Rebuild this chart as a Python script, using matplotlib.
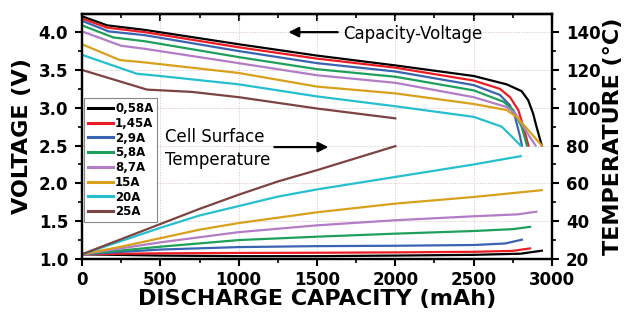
import matplotlib
matplotlib.use('Agg')
import matplotlib.pyplot as plt
from matplotlib.ticker import MultipleLocator, FormatStrFormatter

labels = ['0,58A', '1,45A', '2,9A', '5,8A', '8,7A', '15A', '20A', '25A']
colors = ['#000000', '#ec1c24', '#3a64b2', '#1fa05a', '#b27cc6', '#d9a11b', '#25bfd0', '#7d4242']

# discharge capacity (mAh) vs voltage (V)
cap_v_058 = [0, 160, 400, 1000, 1500, 2000, 2500, 2710, 2806, 2848, 2880, 2901, 2935]
volt_058 = [4.21, 4.09, 4.03, 3.84, 3.69, 3.56, 3.42, 3.31, 3.22, 3.10, 2.92, 2.75, 2.50]
cap_v_145 = [0, 160, 400, 1000, 1500, 2000, 2500, 2668, 2732, 2785, 2817, 2850]
volt_145 = [4.18, 4.06, 4.00, 3.80, 3.65, 3.53, 3.36, 3.25, 3.14, 2.97, 2.75, 2.50]
cap_v_29 = [0, 170, 400, 1000, 1500, 2000, 2500, 2668, 2732, 2764, 2796, 2808]
volt_29 = [4.15, 4.01, 3.96, 3.75, 3.59, 3.48, 3.30, 3.17, 3.03, 2.88, 2.62, 2.50]
cap_v_58 = [0, 200, 400, 1000, 1500, 2000, 2500, 2690, 2753, 2806, 2840]
volt_58 = [4.09, 3.93, 3.88, 3.67, 3.51, 3.41, 3.23, 3.08, 2.97, 2.75, 2.50]
cap_v_87 = [0, 250, 400, 1000, 1500, 2000, 2500, 2710, 2764, 2838, 2895]
volt_87 = [4.01, 3.82, 3.78, 3.59, 3.43, 3.33, 3.14, 3.01, 2.93, 2.68, 2.50]
cap_v_15 = [0, 243, 400, 1000, 1500, 2000, 2500, 2710, 2774, 2859, 2935]
volt_15 = [3.84, 3.63, 3.60, 3.46, 3.28, 3.19, 3.05, 2.97, 2.88, 2.68, 2.50]
cap_v_20 = [0, 350, 500, 1000, 1500, 2000, 2500, 2679, 2743, 2800]
volt_20 = [3.70, 3.45, 3.42, 3.31, 3.15, 3.02, 2.88, 2.75, 2.62, 2.50]
cap_v_25 = [0, 415, 700, 1000, 1500, 2000]
volt_25 = [3.50, 3.24, 3.21, 3.14, 2.99, 2.86]

# discharge capacity (mAh) vs cell surface temperature (C)
cap_t_058 = [0, 500, 1000, 1500, 2000, 2500, 2800, 2935]
temp_058 = [22.5, 21.8, 21.5, 21.5, 21.8, 22.2, 22.8, 24.4]
cap_t_145 = [0, 500, 1000, 1500, 2000, 2500, 2750, 2860]
temp_145 = [22.5, 23.0, 23.2, 23.3, 23.5, 23.8, 24.3, 25.6]
cap_t_29 = [0, 500, 1000, 1500, 2000, 2500, 2700, 2808]
temp_29 = [22.5, 25.0, 26.3, 26.8, 27.0, 27.4, 28.2, 30.2]
cap_t_58 = [0, 500, 1000, 1500, 2000, 2500, 2750, 2860]
temp_58 = [22.5, 26.5, 30.0, 31.8, 33.4, 34.8, 35.8, 37.0]
cap_t_87 = [0, 500, 1000, 1500, 2000, 2500, 2780, 2900]
temp_87 = [22.5, 28.8, 34.2, 37.8, 40.5, 42.6, 43.6, 45.0]
cap_t_15 = [0, 250, 500, 750, 1000, 1500, 2000, 2500, 2935]
temp_15 = [22.5, 26.5, 31.0, 35.5, 39.0, 44.7, 49.3, 52.8, 56.4]
cap_t_20 = [0, 250, 500, 750, 1000, 1250, 1500, 2000, 2500, 2800]
temp_20 = [22.5, 29.5, 36.5, 43.0, 48.0, 53.0, 56.8, 63.4, 70.0, 74.4]
cap_t_25 = [0, 250, 500, 750, 1000, 1250, 1500, 2000]
temp_25 = [22.5, 30.5, 38.5, 46.5, 54.0, 61.0, 67.0, 79.7]

volt_curves = [(cap_v_058, volt_058), (cap_v_145, volt_145), (cap_v_29, volt_29), (cap_v_58, volt_58),
               (cap_v_87, volt_87), (cap_v_15, volt_15), (cap_v_20, volt_20), (cap_v_25, volt_25)]
temp_curves = [(cap_t_058, temp_058), (cap_t_145, temp_145), (cap_t_29, temp_29), (cap_t_58, temp_58),
               (cap_t_87, temp_87), (cap_t_15, temp_15), (cap_t_20, temp_20), (cap_t_25, temp_25)]

fig = plt.figure(figsize=(6.25, 3.16), dpi=100)
ax = fig.add_axes([0.1312, 0.1804, 0.752, 0.7753])
ax2 = ax.twinx()

for (x, y), c, lab in zip(volt_curves, colors, labels):
    ax.plot(x, y, color=c, lw=1.6, label=lab)
for (x, y), c in zip(temp_curves, colors):
    ax2.plot(x, y, color=c, lw=1.6)

ax.set_xlim(0, 3000)
ax.set_ylim(1.0, 4.24)
ax2.set_ylim(20, 149.6)

ax.xaxis.set_major_locator(MultipleLocator(500))
ax.xaxis.set_minor_locator(MultipleLocator(250))
ax.yaxis.set_major_locator(MultipleLocator(0.5))
ax.yaxis.set_minor_locator(MultipleLocator(0.25))
ax.yaxis.set_major_formatter(FormatStrFormatter('%.1f'))
ax2.yaxis.set_major_locator(MultipleLocator(20))
ax2.yaxis.set_minor_locator(MultipleLocator(10))

ax.grid(True, which='major', ls=(0, (2, 2)), lw=0.5, color='#d8bcbc')

ax.tick_params(which='major', direction='out', length=5, width=1.5, labelsize=12)
ax.tick_params(axis='y', which='major', pad=5)
ax.tick_params(axis='x', which='major', pad=4)
ax.tick_params(which='minor', direction='out', length=3, width=1.2)
ax2.tick_params(which='major', direction='out', length=5, width=1.5, labelsize=12, pad=5)
ax2.tick_params(which='minor', direction='out', length=3, width=1.2)

top = ax.secondary_xaxis('top')
top.xaxis.set_major_locator(MultipleLocator(500))
top.xaxis.set_minor_locator(MultipleLocator(250))
top.tick_params(which='major', direction='in', length=5, width=1.5, labeltop=False)
top.tick_params(which='minor', direction='in', length=3, width=1.2)
top.spines['top'].set_linewidth(1.6)

for sp in ax.spines.values():
    sp.set_linewidth(1.6)
for sp in ax2.spines.values():
    sp.set_linewidth(1.6)

for t in ax.get_xticklabels() + ax.get_yticklabels() + ax2.get_yticklabels():
    t.set_fontweight('bold')

ax.set_xlabel('DISCHARGE CAPACITY (mAh)', fontsize=16, fontweight='bold', labelpad=0)
ax.set_ylabel('VOLTAGE (V)', fontsize=16, fontweight='bold', labelpad=5)
ax2.set_ylabel('TEMPERATURE (°C)', fontsize=16, fontweight='bold', labelpad=2)

leg = ax.legend(loc='upper left', bbox_to_anchor=(0.0, 0.665), fontsize=8.5, frameon=True,
                fancybox=False, edgecolor='#888888', framealpha=1, handlelength=2.1,
                handletextpad=0.2, labelspacing=0.15, borderpad=0.3, borderaxespad=0.2)
leg.get_frame().set_linewidth(0.8)
for t in leg.get_texts():
    t.set_fontweight('bold')
for h in leg.get_lines():
    h.set_linewidth(2.2)

ax.annotate('', xy=(1300, 4.0), xytext=(1650, 4.0),
            arrowprops=dict(arrowstyle='-|>', color='black', lw=1.6, mutation_scale=15))
ax.text(1665, 3.97, 'Capacity-Voltage', fontsize=12, va='center', ha='left')
ax.text(530, 2.46, 'Cell Surface\nTemperature', fontsize=12, va='center', ha='left', linespacing=1.4)
ax.annotate('', xy=(1590, 2.48), xytext=(1210, 2.48),
            arrowprops=dict(arrowstyle='-|>', color='black', lw=1.6, mutation_scale=15))

fig.savefig('out.png', dpi=100)
